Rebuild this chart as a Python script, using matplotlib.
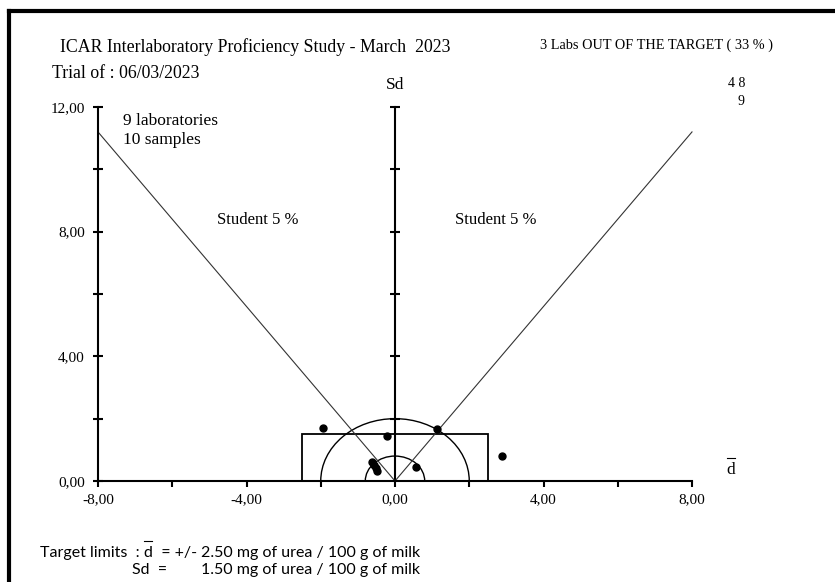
import matplotlib
matplotlib.use("Agg")
import matplotlib.pyplot as plt
import numpy as np
from matplotlib.patches import Rectangle, Arc
from matplotlib.lines import Line2D

# ---- data ----
lab_dbar = [-1.93, -0.21, 1.14, 2.87, 0.57, -0.62, -0.57, -0.52, -0.48]
lab_sd = [1.71, 1.44, 1.67, 0.80, 0.46, 0.62, 0.52, 0.42, 0.32]
target_dbar = 2.50
target_sd = 1.50
student_slope = 1.40
circle_radii = [0.8, 2.0]
x_major = [-8, -4, 0, 4, 8]
x_minor = [-6, -2, 2, 6]
y_major = [0, 4, 8, 12]
y_minor = [2, 6, 10]
x_labels = ["-8,00", "-4,00", "0,00", "4,00", "8,00"]
y_labels = ["0,00", "4,00", "8,00", "12,00"]
sd_axis_ticks = [2, 4, 6, 8, 10, 12]

W, H = 835, 582
fig = plt.figure(figsize=(W / 100, H / 100), dpi=100)
SERIF = "Liberation Serif"
SANS = "Lato"

def fx(px):
    return px / W

def fy(py):
    return 1 - py / H

ax = fig.add_axes([fx(98), fy(481), (692 - 98) / W, (481 - 107) / H])
ax.set_xlim(-8, 8)
ax.set_ylim(0, 12)
ax.patch.set_alpha(0)
for s in ["top", "right"]:
    ax.spines[s].set_visible(False)
ax.spines["left"].set_linewidth(1.5)
ax.spines["bottom"].set_linewidth(1.5)
ax.set_xticks(x_major)
ax.set_xticklabels(x_labels, fontfamily=SERIF, fontsize=11)
ax.set_xticks(x_minor, minor=True)
ax.set_yticks(y_major)
ax.set_yticklabels(y_labels, fontfamily=SERIF, fontsize=11)
ax.set_yticks(y_minor, minor=True)
ax.tick_params(axis="x", which="both", direction="out", length=4, width=1.5, pad=5)
ax.tick_params(axis="y", which="both", direction="inout", length=7, width=1.5, pad=6)

# central Sd axis
ax.plot([0, 0], [0, 12], color="black", lw=1.5, clip_on=False)
ax.plot([0] * len(sd_axis_ticks), sd_axis_ticks, linestyle="none", marker="_",
        markersize=7, mew=1.5, color="black", clip_on=False)

# Student lines
ax.plot([-8, 0, 8], [8 * student_slope, 0, 8 * student_slope], color="#333333",
        lw=0.8, clip_on=False)

# target rectangle
ax.add_patch(Rectangle((-target_dbar, 0), 2 * target_dbar, target_sd, fill=False,
                       edgecolor="black", lw=1.3, clip_on=False))

# semicircles
for r in circle_radii:
    ax.add_patch(Arc((0, 0), 2 * r, 2 * r, theta1=0, theta2=180, color="black",
                     lw=1.0, clip_on=False))

# lab points
ax.plot(lab_dbar, lab_sd, linestyle="none", marker="o", markersize=5,
        color="black", clip_on=False, zorder=5)

# ---- texts ----
fig.text(fx(60), fy(47), "ICAR Interlaboratory Proficiency Study - March  2023",
         fontfamily=SERIF, fontsize=12.8, va="center", ha="left")
fig.text(fx(52), fy(74), "Trial of : 06/03/2023", fontfamily=SERIF, fontsize=12.8,
         va="center", ha="left")
fig.text(fx(540), fy(45), "3 Labs OUT OF THE TARGET ( 33 % )", fontfamily=SERIF,
         fontsize=10.3, va="center", ha="left")
fig.text(fx(395), fy(85), "Sd", fontfamily=SERIF, fontsize=12.5, va="center", ha="center")
fig.text(fx(745), fy(84), "4 8", fontfamily=SERIF, fontsize=10, va="center", ha="right")
fig.text(fx(745), fy(101), "9", fontfamily=SERIF, fontsize=10, va="center", ha="right")
fig.text(fx(123), fy(121), "9 laboratories", fontfamily=SERIF, fontsize=12.5,
         va="center", ha="left")
fig.text(fx(123), fy(140), "10 samples", fontfamily=SERIF, fontsize=12.5,
         va="center", ha="left")
fig.text(fx(217), fy(220), "Student 5 %", fontfamily=SERIF, fontsize=12,
         va="center", ha="left")
fig.text(fx(455), fy(220), "Student 5 %", fontfamily=SERIF, fontsize=12,
         va="center", ha="left")
fig.text(fx(731), fy(470), "d", fontfamily=SERIF, fontsize=12.5, va="center", ha="center")
fig.add_artist(Line2D([fx(727), fx(735)], [fy(458), fy(458)], color="black", lw=0.8))

# bottom target text, laid out piece by piece
BFS = 11.5
fig.canvas.draw()
r = fig.canvas.get_renderer()

def put(xpx, ypx, s):
    t = fig.text(fx(xpx), fy(ypx), s, fontfamily=SANS, fontsize=BFS, va="center",
                 ha="left")
    bb = t.get_window_extent(renderer=r)
    return bb.x0, bb.x1

_, x1 = put(40, 553, "Target limits  : ")
dx0, dx1 = put(x1, 553, "d")
fig.add_artist(Line2D([fx(dx0 + 0.5), fx(dx1 - 0.5)], [fy(541), fy(541)],
                      color="black", lw=0.8))
_, x2 = put(dx1, 553, "  = +/- ")
put(x2, 553, "2.50 mg of urea / 100 g of milk")
put(132, 570, "Sd  =")
put(x2, 570, "1.50 mg of urea / 100 g of milk")

# frame (top and left visible)
fig.add_artist(Line2D([fx(9), fx(835)], [fy(11), fy(11)], color="black", lw=3))
fig.add_artist(Line2D([fx(9), fx(9)], [fy(11), fy(582)], color="black", lw=3))

fig.savefig("out.png", dpi=100)
